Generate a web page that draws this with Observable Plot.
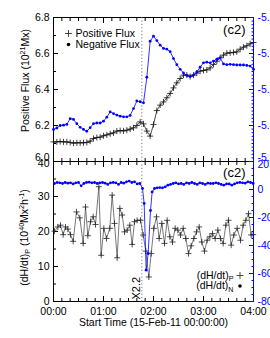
<!DOCTYPE html>
<html><head><meta charset="utf-8">
<script src="https://cdn.jsdelivr.net/npm/d3@7"></script>
<script src="https://cdn.jsdelivr.net/npm/@observablehq/plot@0.6"></script>
<style>
html,body{margin:0;padding:0;background:#fff;overflow:hidden}
#chart{position:relative;width:270px;height:338px;overflow:hidden;background:#fff}
#chart svg{position:absolute;left:0;top:0}
</style></head><body><div id="chart"></div>
<script>
// ---------- data ----------
const fluxTime = [0,4,8,12,16,20,24,28,32,36,40,44,48,52,56,60,64,68,72,76,80,84,88,92,96,100,104,108,112,116,120,124,128,132,136,140,144,148,152,156,160,164,168,172,176,180,184,188,192,196,200,204,208,212,216,220,224,228,232,236,240];
const positiveFlux = [6.109,6.109,6.111,6.109,6.109,6.106,6.102,6.104,6.104,6.104,6.106,6.113,6.128,6.133,6.135,6.143,6.148,6.154,6.159,6.169,6.172,6.170,6.174,6.180,6.187,6.200,6.220,6.209,6.169,6.141,6.206,6.283,6.313,6.331,6.354,6.378,6.409,6.437,6.461,6.480,6.480,6.472,6.480,6.491,6.502,6.506,6.509,6.520,6.539,6.557,6.576,6.591,6.602,6.604,6.606,6.609,6.624,6.635,6.643,6.654,6.661];
const negativeFlux = [-5.411,-5.407,-5.400,-5.399,-5.397,-5.381,-5.383,-5.395,-5.405,-5.411,-5.416,-5.406,-5.395,-5.393,-5.393,-5.388,-5.377,-5.362,-5.367,-5.371,-5.374,-5.376,-5.376,-5.372,-5.353,-5.332,-5.334,-5.337,-5.266,-5.166,-5.152,-5.164,-5.177,-5.186,-5.188,-5.195,-5.214,-5.231,-5.244,-5.254,-5.261,-5.264,-5.260,-5.251,-5.238,-5.226,-5.224,-5.226,-5.221,-5.216,-5.212,-5.229,-5.231,-5.230,-5.231,-5.232,-5.232,-5.232,-5.233,-5.235,-5.244];

const helPTime = [1.2,5.2,8.4,11.6,14.4,17.2,20.4,23.6,27.6,31.6,35.6,38.4,41.2,44.4,47.6,50.4,54.4,57.2,60.4,63.6,67.6,70.4,73.2,76.4,79.6,82.4,85.2,88.4,91.6,94.4,97.2,100.4,104.4,107.6,110.8,114.4,117.2,120.4,123.6,126.8,130,133.2,136.4,139.6,142.8,146,149.2,152.4,155.6,158.8,162,165.2,168.4,171.6,174.8,178,181.2,184.4,187.6,190.8,194,197.2,200.4,203.6,206.8,210,213.2,216.4,220.4,224.4,227.6,230.8,234,237.2,239.6];
const helP = [20.1,21.3,21.8,19.1,21.3,20.7,19.1,17.2,25.6,23.9,16.6,27.0,18.8,22.8,24.2,22.0,32.8,13.2,20.9,18.0,20.9,30.4,22.3,12.5,26.6,24.7,19.9,20.4,21.8,16.3,22.8,23.2,23.2,19.0,14.4,7.0,13.7,20.9,24.2,18.0,22.3,16.6,23.2,18.5,17.0,20.9,20.4,19.0,20.9,18.0,13.7,15.9,18.0,19.9,21.3,17.0,14.4,17.5,18.5,19.4,18.0,20.4,18.0,16.6,21.8,23.2,16.1,19.0,20.9,17.5,21.8,23.2,25.1,19.0,19.1];

const helNTime = [1.2,4.4,7.6,10.8,14,17.2,20.4,23.6,26.8,30,33.2,36.4,39.6,42.8,46,49.2,52.4,55.6,58.8,62,65.2,68.4,71.6,74.8,78,81.2,84.4,87.6,90.8,94,97.2,100.4,103.6,106.8,108.8,111.2,113.6,116.4,118.4,121.2,124.4,127.6,130.8,134,137.2,140.4,143.6,146.8,150,153.2,156.4,159.6,162.8,166,169.2,172.4,175.6,178.8,182,185.2,188.4,191.6,194.8,198,201.2,204.4,207.6,210.8,214,217.2,220.4,223.6,226.8,230,233.2,236.4,239.6];
const helN = [4.3,5.0,4.8,4.3,5.0,4.5,4.8,4.0,4.8,5.0,2.6,4.3,5.0,5.2,4.8,5.0,4.3,4.8,5.0,4.5,3.6,4.8,5.0,4.8,3.6,5.0,4.5,5.5,6.0,5.0,5.5,4.0,4.3,0.7,-10.0,-57.6,-45.7,-15.0,-1.7,0.7,1.2,1.4,1.2,1.9,3.1,3.6,4.3,4.8,4.0,4.3,3.6,4.8,4.3,5.0,4.3,3.6,4.8,4.3,3.6,4.5,4.3,4.3,4.8,4.3,3.6,3.1,4.0,4.0,3.1,4.0,4.8,5.0,4.8,4.5,5.5,5.0,4.3];

const timeDomain = [0, 240];
const hourTicks = [0, 60, 120, 180, 240];
const hourLabels = ["00:00", "01:00", "02:00", "03:00", "04:00"];
const flareTime = [106];
const flareLabel = "X2.2";

const posFluxDomain = [6.0, 6.8];
const posFluxTicks = [6.0, 6.2, 6.4, 6.6, 6.8];
const negFluxDomain = [-5.5, -5.1];
const negFluxTicks = [-5.5, -5.4, -5.3, -5.2, -5.1];
const helPDomain = [0, 40];
const helPTicks = [0, 10, 20, 30, 40];
const helNDomain = [-80, 20];
const helNTicks = [-80, -60, -40, -20, 0, 20];

const panelTag = "(c2)";
const topYTitle = "Positive Flux (1021Mx)";
const bottomYTitle = "(dH/dt)P (1040Mx2h-1)";
const xTitle = "Start Time (15-Feb-11 00:00:00)";
const legendTop = ["Positive Flux", "Negative Flux"];
const legendBottom = ["(dH/dt)P", "(dH/dt)N"];

// ---------- helpers ----------
const BLUE = "#0000ff";
const W = 270, H = 338, ML = 53, MR = 17;
const minorMinutes = d3.range(0, 241, 10).filter(d => d % 60 !== 0);
const posFluxMinor = [6.1, 6.3, 6.5, 6.7];
const negFluxMinor = d3.range(1, 40).map(i => -5.5 + i * 0.01).filter((d, i) => (i + 1) % 10 !== 0);
const helPMinor = [5, 15, 25, 35];
const helNMinor = d3.range(-75, 20, 5).filter(d => d % 20 !== 0);
const fmt1 = d => d.toFixed(1);
const fmtHour = d => hourLabels[hourTicks.indexOf(d)];
const style = {background: "transparent", fontFamily: '"Liberation Sans", Arial, Helvetica, sans-serif', fontSize: "10.5px", color: "black"};

const topRows = fluxTime.map((t, i) => ({t, pos: positiveFlux[i], neg: negativeFlux[i]}));
const pRows = helPTime.map((t, i) => ({t, v: helP[i]}));
const nRows = helNTime.map((t, i) => ({t, v: helN[i]}));

function base(mt, mb, ydomain, marks) {
  return Plot.plot({
    width: W, height: H, marginLeft: ML, marginRight: MR, marginTop: mt, marginBottom: mb,
    x: {domain: timeDomain, axis: null}, y: {domain: ydomain, axis: null},
    style, marks
  });
}
function xTicks() {
  return [
    Plot.axisX(hourTicks, {anchor: "bottom", tickSize: -5, fill: "none", label: null}),
    Plot.axisX(hourTicks, {anchor: "top", tickSize: -5, fill: "none", label: null}),
    Plot.axisX(minorMinutes, {anchor: "bottom", tickSize: -3, fill: "none", label: null}),
    Plot.axisX(minorMinutes, {anchor: "top", tickSize: -3, fill: "none", label: null})
  ];
}
function rich(svg, plain, parts) {
  d3.select(svg).selectAll("text").filter(function() { return this.textContent === plain; }).each(function() {
    const t = d3.select(this);
    t.text(null);
    let shift = 0;
    for (const p of parts) {
      const s = t.append("tspan");
      let target = 0;
      if (typeof p === "string") s.text(p);
      else if (p.sup) { s.text(p.sup).attr("font-size", "0.68em"); target = -4; }
      else if (p.sub) { s.text(p.sub).attr("font-size", "0.68em"); target = 2.5; }
      if (target - shift) s.attr("dy", target - shift);
      shift = target;
    }
  });
}

// ---------- top panel ----------
const TT = 17, TB = H - 161;
const topBlack = base(TT, TB, posFluxDomain, [
  Plot.ruleY(posFluxDomain, {stroke: "black"}),
  Plot.ruleX([timeDomain[0]], {stroke: "black"}),
  Plot.ruleX(flareTime, {x: d => d, stroke: "#777", strokeDasharray: "1.2 2.2"}),
  ...xTicks(),
  Plot.axisY(posFluxTicks, {anchor: "left", tickSize: -5, fill: "none", label: null}),
  Plot.axisY(posFluxMinor, {anchor: "left", tickSize: -3, fill: "none", label: null}),
  Plot.axisY(posFluxTicks.slice(1), {anchor: "left", tickSize: 0, tickPadding: 4, tickFormat: fmt1, label: null}),
  Plot.axisY(posFluxTicks.slice(0, 1), {anchor: "left", tickSize: 0, tickPadding: 4, tickFormat: fmt1, label: null, dy: -4}),
  Plot.line(topRows, {x: "t", y: "pos", stroke: "#222", strokeWidth: 0.8}),
  Plot.dot(topRows, {x: "t", y: "pos", symbol: "plus", r: 2.1, stroke: "#111", strokeWidth: 0.8}),
  Plot.dot([0], {frameAnchor: "top-left", dx: 15, dy: 16, symbol: "plus", r: 2.4, stroke: "#333", strokeWidth: 0.9}),
  Plot.dot([0], {frameAnchor: "top-left", dx: 15, dy: 27, r: 1.8, fill: "black"}),
  Plot.text([legendTop[0]], {text: d => d, frameAnchor: "top-left", dx: 22, dy: 16, textAnchor: "start", lineAnchor: "middle"}),
  Plot.text([legendTop[1]], {text: d => d, frameAnchor: "top-left", dx: 22, dy: 27, textAnchor: "start", lineAnchor: "middle"}),
  Plot.text([panelTag], {text: d => d, frameAnchor: "top-right", dx: -8, dy: 12, textAnchor: "end", lineAnchor: "middle", fontSize: 13}),
  Plot.text([topYTitle], {text: d => d, frameAnchor: "left", dx: -28, dy: -9, rotate: -90, textAnchor: "middle", lineAnchor: "middle"})
]);
rich(topBlack, topYTitle, ["Positive Flux (10", {sup: "21"}, "Mx)"]);

const topBlue = base(TT, TB, negFluxDomain, [
  Plot.ruleX([timeDomain[1]], {stroke: BLUE}),
  Plot.axisY(negFluxTicks, {anchor: "right", tickSize: -5, stroke: BLUE, fill: "none", label: null}),
  Plot.axisY(negFluxMinor, {anchor: "right", tickSize: -2.5, stroke: BLUE, fill: "none", label: null}),
  Plot.axisY(negFluxTicks.slice(1), {anchor: "right", tickSize: 0, tickPadding: 4, fill: BLUE, tickFormat: fmt1, label: null}),
  Plot.axisY(negFluxTicks.slice(0, 1), {anchor: "right", tickSize: 0, tickPadding: 4, fill: BLUE, tickFormat: fmt1, label: null, dy: -4}),
  Plot.line(topRows, {x: "t", y: "neg", stroke: BLUE, strokeWidth: 0.8}),
  Plot.dot(topRows, {x: "t", y: "neg", r: 1.4, fill: BLUE})
]);

// ---------- bottom panel ----------
const BT = 161, BB = H - 301;
const bottomBlack = base(BT, BB, helPDomain, [
  Plot.ruleY(helPDomain, {stroke: "black"}),
  Plot.ruleX([timeDomain[0]], {stroke: "black"}),
  Plot.ruleX(flareTime, {x: d => d, stroke: "#777", strokeDasharray: "1.2 2.2"}),
  Plot.text(flareTime, {x: d => d, frameAnchor: "bottom", text: () => flareLabel, rotate: -90, textAnchor: "start", lineAnchor: "middle", dx: -5, dy: -2, fontSize: 11}),
  ...xTicks(),
  Plot.axisX(hourTicks, {anchor: "bottom", tickSize: 0, tickPadding: 6, tickFormat: fmtHour, label: null}),
  Plot.axisY(helPTicks, {anchor: "left", tickSize: -5, fill: "none", label: null}),
  Plot.axisY(helPMinor, {anchor: "left", tickSize: -3, fill: "none", label: null}),
  Plot.axisY(helPTicks.slice(0, 4), {anchor: "left", tickSize: 0, tickPadding: 4, label: null}),
  Plot.axisY(helPTicks.slice(4), {anchor: "left", tickSize: 0, tickPadding: 4, label: null, dy: 2}),
  Plot.line(pRows, {x: "t", y: "v", stroke: "#555", strokeWidth: 0.8}),
  Plot.dot(pRows, {x: "t", y: "v", symbol: "plus", r: 2.1, stroke: "#222", strokeWidth: 0.8}),
  Plot.text([panelTag], {text: d => d, frameAnchor: "top-right", dx: -8, dy: 11, textAnchor: "end", lineAnchor: "middle", fontSize: 13}),
  Plot.text([legendBottom[0]], {text: d => d, frameAnchor: "bottom-right", dx: -20, dy: -26, textAnchor: "end", lineAnchor: "middle"}),
  Plot.text([legendBottom[1]], {text: d => d, frameAnchor: "bottom-right", dx: -20, dy: -15.5, textAnchor: "end", lineAnchor: "middle"}),
  Plot.dot([0], {frameAnchor: "bottom-right", dx: -13.5, dy: -26, symbol: "plus", r: 2.4, stroke: "#333", strokeWidth: 0.9}),
  Plot.dot([0], {frameAnchor: "bottom-right", dx: -13.5, dy: -15.5, r: 1.8, fill: "black"}),
  Plot.text([bottomYTitle], {text: d => d, frameAnchor: "left", dx: -29, dy: 6, rotate: -90, textAnchor: "middle", lineAnchor: "middle"}),
  Plot.text([xTitle], {text: d => d, frameAnchor: "bottom", dy: 21, textAnchor: "middle", lineAnchor: "middle"})
]);
rich(bottomBlack, bottomYTitle, ["(dH/dt)", {sub: "P"}, " (10", {sup: "40"}, "Mx", {sup: "2"}, "h", {sup: "-1"}, ")"]);
rich(bottomBlack, legendBottom[0], ["(dH/dt)", {sub: "P"}]);
rich(bottomBlack, legendBottom[1], ["(dH/dt)", {sub: "N"}]);

const bottomBlue = base(BT, BB, helNDomain, [
  Plot.ruleX([timeDomain[1]], {stroke: BLUE}),
  Plot.axisY(helNTicks, {anchor: "right", tickSize: -5, stroke: BLUE, fill: "none", label: null}),
  Plot.axisY(helNMinor, {anchor: "right", tickSize: -2.5, stroke: BLUE, fill: "none", label: null}),
  Plot.axisY(helNTicks.slice(0, 5), {anchor: "right", tickSize: 0, tickPadding: 4, fill: BLUE, tickFormat: d => String(d), label: null}),
  Plot.axisY(helNTicks.slice(5), {anchor: "right", tickSize: 0, tickPadding: 4, fill: BLUE, tickFormat: d => String(d), label: null, dy: 3}),
  Plot.line(nRows, {x: "t", y: "v", stroke: BLUE, strokeWidth: 0.8}),
  Plot.dot(nRows, {x: "t", y: "v", r: 1.4, fill: BLUE})
]);

const chart = document.getElementById("chart");
for (const svg of [topBlack, topBlue, bottomBlack, bottomBlue]) chart.appendChild(svg);
</script>
</body></html>
